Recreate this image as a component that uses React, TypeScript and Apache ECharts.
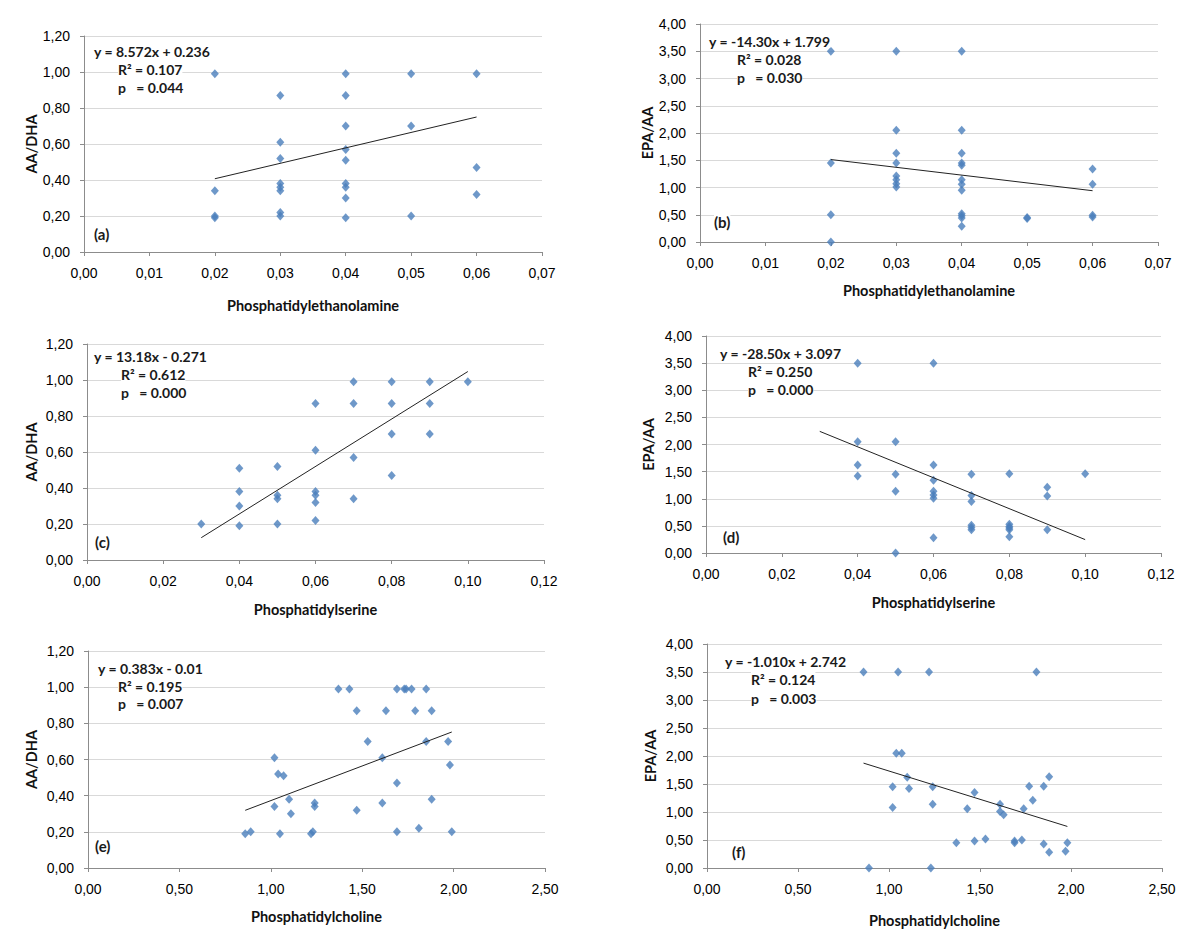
import { useEffect, useRef } from "react";
import * as echarts from "echarts";

// ---- data ----
const peAaDha: number[][] = [
  [0.02, 0.99], [0.02, 0.34], [0.02, 0.2], [0.02, 0.19],
  [0.03, 0.87], [0.03, 0.61], [0.03, 0.52], [0.03, 0.38], [0.03, 0.36], [0.03, 0.34], [0.03, 0.22], [0.03, 0.2],
  [0.04, 0.99], [0.04, 0.87], [0.04, 0.7], [0.04, 0.57], [0.04, 0.51], [0.04, 0.38], [0.04, 0.36], [0.04, 0.3], [0.04, 0.19],
  [0.05, 0.99], [0.05, 0.7], [0.05, 0.2],
  [0.06, 0.99], [0.06, 0.47], [0.06, 0.32],
];
const peEpaAa: number[][] = [
  [0.02, 3.5], [0.02, 1.45], [0.02, 0.5], [0.02, 0.0],
  [0.03, 3.5], [0.03, 2.05], [0.03, 1.63], [0.03, 1.45], [0.03, 1.21], [0.03, 1.14], [0.03, 1.07], [0.03, 1.01],
  [0.04, 3.5], [0.04, 2.05], [0.04, 1.63], [0.04, 1.45], [0.04, 1.41], [0.04, 1.14], [0.04, 1.06], [0.04, 0.95],
  [0.04, 0.52], [0.04, 0.48], [0.04, 0.44], [0.04, 0.29],
  [0.05, 0.45], [0.05, 0.43],
  [0.06, 1.34], [0.06, 1.06], [0.06, 0.49], [0.06, 0.46],
];
const psAaDha: number[][] = [
  [0.03, 0.2],
  [0.04, 0.51], [0.04, 0.38], [0.04, 0.3], [0.04, 0.19],
  [0.05, 0.52], [0.05, 0.36], [0.05, 0.34], [0.05, 0.2],
  [0.06, 0.87], [0.06, 0.61], [0.06, 0.38], [0.06, 0.36], [0.06, 0.32], [0.06, 0.22],
  [0.07, 0.99], [0.07, 0.87], [0.07, 0.57], [0.07, 0.34],
  [0.08, 0.99], [0.08, 0.87], [0.08, 0.7], [0.08, 0.47],
  [0.09, 0.99], [0.09, 0.87], [0.09, 0.7],
  [0.1, 0.99],
];
const psEpaAa: number[][] = [
  [0.04, 3.5], [0.04, 2.05], [0.04, 1.62], [0.04, 1.42],
  [0.05, 2.05], [0.05, 1.45], [0.05, 1.14], [0.05, 0.0],
  [0.06, 3.5], [0.06, 1.62], [0.06, 1.34], [0.06, 1.14], [0.06, 1.07], [0.06, 1.01], [0.06, 0.28],
  [0.07, 1.45], [0.07, 1.06], [0.07, 0.95], [0.07, 0.51], [0.07, 0.47], [0.07, 0.43],
  [0.08, 1.46], [0.08, 0.53], [0.08, 0.49], [0.08, 0.46], [0.08, 0.43], [0.08, 0.3],
  [0.09, 1.21], [0.09, 1.05], [0.09, 0.43],
  [0.1, 1.46],
];
const pcAaDha: number[][] = [
  [0.86, 0.19], [0.89, 0.2], [1.02, 0.61], [1.02, 0.34], [1.04, 0.52], [1.07, 0.51], [1.05, 0.19],
  [1.1, 0.38], [1.11, 0.3], [1.22, 0.19], [1.23, 0.2], [1.24, 0.36], [1.24, 0.34],
  [1.37, 0.99], [1.43, 0.99], [1.47, 0.87], [1.47, 0.32], [1.53, 0.7], [1.61, 0.61], [1.61, 0.36],
  [1.63, 0.87], [1.69, 0.99], [1.69, 0.47], [1.69, 0.2], [1.73, 0.99], [1.74, 0.99], [1.77, 0.99],
  [1.79, 0.87], [1.81, 0.22], [1.85, 0.99], [1.85, 0.7], [1.88, 0.87], [1.88, 0.38],
  [1.97, 0.7], [1.98, 0.57], [1.99, 0.2],
];
const pcEpaAa: number[][] = [
  [0.86, 3.5], [0.89, 0.0], [1.05, 3.5], [1.22, 3.5], [1.81, 3.5],
  [1.04, 2.05], [1.07, 2.05], [1.1, 1.62], [1.02, 1.45], [1.11, 1.42], [1.02, 1.08],
  [1.24, 1.45], [1.24, 1.14], [1.23, 0.0], [1.37, 0.45], [1.43, 1.06], [1.47, 1.35], [1.47, 0.48],
  [1.53, 0.52], [1.61, 1.14], [1.61, 1.01], [1.63, 0.95], [1.69, 0.48], [1.69, 0.45], [1.73, 0.5],
  [1.74, 1.06], [1.77, 1.46], [1.79, 1.21], [1.85, 1.46], [1.85, 0.43], [1.88, 1.63], [1.88, 0.28],
  [1.97, 0.3], [1.98, 0.45],
];

// trend line end points (as drawn)
const trendA: number[][] = [[0.02, 0.407], [0.06, 0.75]];
const trendB: number[][] = [[0.02, 1.513], [0.06, 0.941]];
const trendC: number[][] = [[0.03, 0.124], [0.1, 1.047]];
const trendD: number[][] = [[0.03, 2.242], [0.1, 0.247]];
const trendE: number[][] = [[0.86, 0.319], [1.99, 0.752]];
const trendF: number[][] = [[0.86, 1.873], [1.98, 0.742]];

const xNames = ["Phosphatidylethanolamine", "Phosphatidylethanolamine", "Phosphatidylserine", "Phosphatidylserine", "Phosphatidylcholine", "Phosphatidylcholine"];
const yNames = ["AA/DHA", "EPA/AA", "AA/DHA", "EPA/AA", "AA/DHA", "EPA/AA"];
const xMax = [0.07, 0.07, 0.12, 0.12, 2.5, 2.5];
const xStep = [0.01, 0.01, 0.02, 0.02, 0.5, 0.5];
const yMax = [1.2, 4, 1.2, 4, 1.2, 4];
const yStep = [0.2, 0.5, 0.2, 0.5, 0.2, 0.5];
const panelTags = ["(a)", "(b)", "(c)", "(d)", "(e)", "(f)"];
const equations = [
  ["y = 8.572x + 0.236", "R\u00B2 = 0.107", "p   = 0.044"],
  ["y = -14.30x + 1.799", "R\u00B2 = 0.028", "p   = 0.030"],
  ["y = 13.18x - 0.271", "R\u00B2 = 0.612", "p   = 0.000"],
  ["y = -28.50x + 3.097", "R\u00B2 = 0.250", "p   = 0.000"],
  ["y = 0.383x - 0.01", "R\u00B2 = 0.195", "p   = 0.007"],
  ["y = -1.010x + 2.742", "R\u00B2 = 0.124", "p   = 0.003"],
];
const scatterData = [peAaDha, peEpaAa, psAaDha, psEpaAa, pcAaDha, pcEpaAa];
const trendData = [trendA, trendB, trendC, trendD, trendE, trendF];

// ---- layout ----
const grids = [
  { left: 84, top: 36, width: 458, height: 216 },
  { left: 700, top: 24, width: 458, height: 218 },
  { left: 87, top: 344, width: 457, height: 216 },
  { left: 706, top: 336, width: 455, height: 217 },
  { left: 88, top: 651, width: 457, height: 217 },
  { left: 707, top: 644, width: 455, height: 224 },
];
const xNameGap = [46, 41, 42, 42, 41, 45];
const yNameGap = [45, 44, 48, 50, 49, 49];
// annotation anchor positions: [eqX, eqY, statX, statY(R2), statY(p), tagX, tagY]
const annot = [
  [94, 52, 118, 70, 88, 94, 235],
  [709, 42, 737, 60, 78, 714, 223],
  [94, 357, 121, 375, 393, 95, 543],
  [720, 354, 748, 372, 390, 723, 538],
  [98, 669, 118, 687, 704, 95, 847],
  [725, 662, 751, 680, 699, 732, 853],
];

const fmt = (v: number) => (Math.round(v * 100) / 100).toFixed(2).replace(".", ",");
const BLUE = "#4a7ebb";
const TXT_FONT = "Lato";
const TICK_FONT = "Liberation Sans";

export default function App() {
  const ref = useRef<HTMLDivElement>(null);
  useEffect(() => {
    if (!ref.current) return;
    const chart = echarts.init(ref.current, undefined, { renderer: "svg" });

    const nameStyle = { fontFamily: TXT_FONT, fontWeight: "bold", fontSize: 14.5, color: "#111" };
    const xAxis = grids.map((_, i) => ({
      type: "value",
      gridIndex: i,
      min: 0,
      max: xMax[i],
      interval: xStep[i],
      name: xNames[i],
      nameLocation: "middle",
      nameGap: xNameGap[i],
      nameTextStyle: nameStyle,
      axisLine: { show: true, onZero: false, lineStyle: { color: "#8c8c8c", width: 1 } },
      axisTick: { show: true, inside: false, length: 4, lineStyle: { color: "#8c8c8c" } },
      axisLabel: { formatter: fmt, margin: 14, fontFamily: TICK_FONT, fontSize: 14, color: "#000" },
      splitLine: { show: false },
    }));
    const yAxis = grids.map((_, i) => ({
      type: "value",
      gridIndex: i,
      min: 0,
      max: yMax[i],
      interval: yStep[i],
      name: yNames[i],
      nameLocation: "middle",
      nameGap: yNameGap[i],
      nameTextStyle: nameStyle,
      axisLine: { show: true, onZero: false, lineStyle: { color: "#8c8c8c", width: 1 } },
      axisTick: { show: true, inside: false, length: 4, lineStyle: { color: "#8c8c8c" } },
      axisLabel: { formatter: fmt, margin: 14, fontFamily: TICK_FONT, fontSize: 14, color: "#000" },
      splitLine: { show: true, lineStyle: { color: "#d9d9d9", width: 1 } },
    }));

    const series: any[] = [];
    scatterData.forEach((d, i) => {
      series.push({
        type: "line",
        xAxisIndex: i,
        yAxisIndex: i,
        data: trendData[i],
        symbol: "none",
        lineStyle: { color: "#222", width: 1 },
        silent: true,
        z: 3,
      });
      series.push({
        type: "scatter",
        xAxisIndex: i,
        yAxisIndex: i,
        data: d,
        symbol: "diamond",
        symbolSize: [8, 9],
        itemStyle: { color: BLUE },
        z: 2,
      });
    });

    const graphic: any[] = [];
    annot.forEach((a, i) => {
      const st = {
        fontFamily: TXT_FONT,
        fontWeight: "bold",
        fontSize: 14,
        fill: "#1a1a1a",
        backgroundColor: "#ffffff",
      };
      graphic.push({ type: "text", left: a[0], top: a[1] - 8, z: 10, style: { ...st, text: equations[i][0] } });
      graphic.push({ type: "text", left: a[2], top: a[3] - 8, z: 10, style: { ...st, text: equations[i][1] } });
      graphic.push({ type: "text", left: a[2], top: a[4] - 8, z: 10, style: { ...st, text: equations[i][2] } });
      graphic.push({ type: "text", left: a[5], top: a[6] - 9, z: 10, style: { ...st, fontSize: 15, text: panelTags[i] } });
    });

    chart.setOption({
      animation: false,
      backgroundColor: "#ffffff",
      grid: grids.map((g) => ({ ...g, containLabel: false })),
      xAxis,
      yAxis,
      series,
      graphic,
    });
    return () => chart.dispose();
  }, []);
  return (
    <div
      ref={ref}
      style={{ position: "absolute", left: 0, top: 0, width: 1200, height: 943, background: "#fff" }}
    />
  );
}
